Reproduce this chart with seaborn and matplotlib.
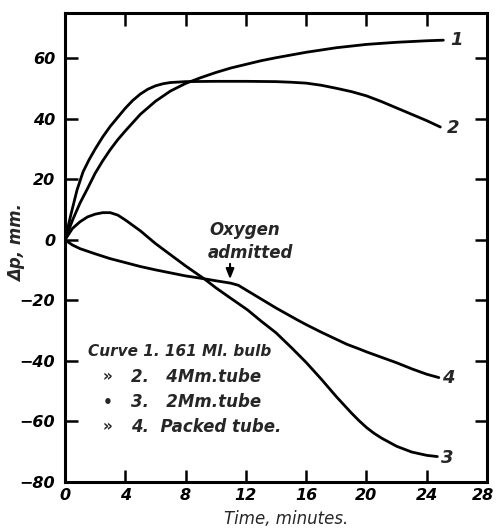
import matplotlib
matplotlib.use("Agg")
import matplotlib.pyplot as plt
import matplotlib.transforms as mtransforms
import seaborn as sns
import pandas as pd

# ---- data ----
t1 = [0, 0.5, 1, 1.5, 2, 2.5, 3, 3.5, 4, 5, 6, 7, 8, 9, 10, 11, 12, 13, 14, 15, 16, 18, 20, 22, 24, 25.1]
p1 = [0, 6.5, 12.2, 17, 22, 26.1, 29.8, 33.1, 36, 41.5, 45.8, 49.2, 51.7, 53.6, 55.3, 56.8, 58, 59.2, 60.2, 61.1, 62, 63.5, 64.6, 65.3, 65.8, 66]

t2 = [0, 0.4, 0.8, 1.2, 1.6, 2, 2.5, 3, 3.5, 4, 4.5, 5, 5.5, 6, 6.5, 7, 8, 10, 12, 14, 15, 16, 17, 18, 19, 20, 21, 22, 23, 24, 24.9]
p2 = [0, 8.5, 16.5, 22.5, 26.5, 30, 34, 37.5, 40.5, 43.5, 46.1, 48.2, 49.8, 50.9, 51.6, 52, 52.3, 52.4, 52.4, 52.3, 52.1, 51.8, 51.1, 50.1, 49, 47.6, 45.7, 43.6, 41.5, 39.4, 37.3]

t3 = [0, 0.5, 1, 1.5, 2, 2.5, 3, 3.5, 4, 4.5, 5, 6, 7, 8, 9.3, 10, 11, 12.1, 13, 14, 15, 16, 17, 18, 19, 19.5, 20, 20.5, 21, 22, 23, 24, 24.7]
p3 = [0, 3.8, 6, 7.6, 8.5, 9.0, 9.0, 8.2, 6.6, 4.8, 3.0, -1.2, -4.9, -8.6, -13.1, -15.8, -19.3, -23.1, -26.8, -30.7, -35.5, -40.5, -46, -51.8, -57.2, -59.7, -62.0, -63.9, -65.5, -68.2, -70.1, -71.2, -71.6]

t4 = [0, 0.5, 1, 2, 3, 4, 5, 6, 7, 8, 9.3, 10, 11, 11.5, 12.1, 13, 14, 15.4, 16, 17, 18.7, 19.5, 20, 21, 22, 23, 24, 24.8]
p4 = [0, -1.7, -2.9, -4.6, -6.2, -7.5, -8.8, -9.9, -10.9, -11.9, -12.9, -13.5, -14.3, -15, -16.8, -19.5, -22.5, -26.4, -28, -30.5, -34.5, -36, -37, -38.8, -40.6, -42.6, -44.4, -45.5]

curve_names = ["1", "2", "3", "4"]
end_label_pos = [(25.55, 66), (25.3, 37), (24.95, -72), (25.0, -45.5)]

legend_lines = [
    ("", "Curve 1. 161 Ml. bulb"),
    ("»", "2.   4Mm.tube"),
    ("•", "3.   2Mm.tube"),
    ("»", "4.  Packed tube."),
]

xticks = [0, 4, 8, 12, 16, 20, 24, 28]
yticks = [-80, -60, -40, -20, 0, 20, 40, 60]

frames = []
for name, t, p in zip(curve_names, [t1, t2, t3, t4], [p1, p2, p3, p4]):
    frames.append(pd.DataFrame({"time": t, "dp": p, "curve": name}))
df = pd.concat(frames, ignore_index=True)

sns.set_theme(style="ticks")
plt.rcParams["font.family"] = ["DejaVu Sans"]

fig = plt.figure(figsize=(4.96, 5.30), dpi=100)
ax = fig.add_axes([0.131, 0.0906, 0.851, 0.885])

for name in curve_names:
    sub = df[df["curve"] == name]
    sns.lineplot(data=sub, x="time", y="dp", ax=ax, color="black",
                 linewidth=2.0, sort=False, estimator=None, legend=False)

ax.set_xlim(0, 28)
ax.set_ylim(-80, 75)
ax.set_xticks(xticks)
ax.set_yticks(yticks)

tickfont = dict(fontsize=11.5, fontstyle="oblique", fontweight="bold")
ax.set_xticklabels([str(v) for v in xticks], **tickfont)
ax.set_yticklabels([("\u2212" + str(-v)) if v < 0 else str(v) for v in yticks], **tickfont)

for s in ax.spines.values():
    s.set_linewidth(2.2)
    s.set_color("black")

ax.tick_params(axis="both", which="major", direction="in", length=9, width=1.8,
               top=True, right=True, color="black", labelcolor="black")
ax.tick_params(axis="y", which="major", pad=7)
ax.tick_params(axis="x", which="major", pad=4)
# long mark at zero on the left axis
ax.set_yticks([0], minor=True)
ax.tick_params(axis="y", which="minor", direction="in", length=19.5, width=1.8,
               left=True, right=False, color="black")

# keep the last x tick label inside the figure
last = ax.get_xticklabels()[-1]
last.set_transform(last.get_transform() + mtransforms.ScaledTranslation(-4 / 100, 0, fig.dpi_scale_trans))

ax.set_xlabel("Time, minutes.", fontsize=12, fontstyle="oblique")
ax.xaxis.set_label_coords(0.524, -0.06)
ax.set_ylabel("\u0394p, mm.", fontsize=12, fontstyle="oblique", fontweight="bold")
ax.yaxis.set_label_coords(-0.093, 0.51)

# curve end labels
for name, (x, y) in zip(curve_names, end_label_pos):
    ax.text(x, y, name, fontsize=13, fontstyle="oblique", fontweight="bold",
            ha="left", va="center")

# legend block text
leg_y = [-37, -45.3, -53.6, -61.8]
for (mark, txt), y in zip(legend_lines, leg_y):
    if mark == "":
        ax.text(1.5, y, txt, fontsize=11, fontstyle="oblique", fontweight="bold",
                ha="left", va="center")
    else:
        ax.text(2.85, y, mark, fontsize=11, fontweight="bold", ha="center", va="center")
        ax.text(4.4, y, txt, fontsize=12, fontstyle="oblique", fontweight="bold",
                ha="left", va="center")

# oxygen annotation
ax.text(9.6, 3.3, "Oxygen", fontsize=12, fontstyle="oblique", fontweight="bold",
        ha="left", va="center")
ax.text(9.5, -4.3, "admitted", fontsize=12, fontstyle="oblique", fontweight="bold",
        ha="left", va="center")
ax.annotate("", xy=(10.95, -13.9), xytext=(10.95, -7.0),
            arrowprops=dict(arrowstyle="-|>,head_length=0.5,head_width=0.2",
                            color="black", lw=1.5))

fig.savefig("out.png", dpi=100)
